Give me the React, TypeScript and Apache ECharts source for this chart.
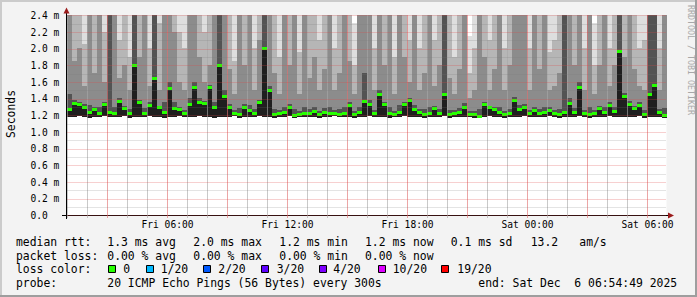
import React, { useEffect, useRef } from 'react';
import * as echarts from 'echarts';

// Time axis: hours since Fri 00:00 (graph spans 30 h, ends Sat 06:54:49)
const START_HOUR = 0.95;
const END_HOUR = 30.95;
const STEP_HOURS = 0.25;
const Y_MAX = 2.4;
const LABEL_HOURS = [6, 12, 18, 24, 30];
const GRID_HOURS = [1, 2, 3, 4, 5, 6, 7, 8, 9, 10, 11, 12, 13, 14, 15, 16, 17, 18, 19, 20, 21, 22, 23, 24, 25, 26, 27, 28, 29, 30];

// per 15-min step, values in ms (values above 2.4 are off the top of the graph)
const minMs = [
  1.18, 1.18, 1.19, 1.18, 1.17, 1.18, 1.18, 1.19, 1.18, 1.18, 1.18, 1.19, 1.17, 1.18, 1.18, 1.18, 1.19, 1.18, 1.18, 1.17,
  1.18, 1.18, 1.19, 1.18, 1.18, 1.18, 1.19, 1.18, 1.18, 1.17, 1.18, 1.18, 1.18, 1.19, 1.17, 1.18, 1.18, 1.18, 1.19, 1.18,
  1.18, 1.17, 1.18, 1.18, 1.19, 1.17, 1.18, 1.18, 1.18, 1.18, 1.17, 1.18, 1.18, 1.19, 1.18, 1.18, 1.18, 1.17, 1.18, 1.18,
  1.19, 1.18, 1.18, 1.18, 1.17, 1.18, 1.18, 1.19, 1.18, 1.18, 1.18, 1.17, 1.18, 1.18, 1.18, 1.19, 1.17, 1.18, 1.18, 1.18,
  1.18, 1.17, 1.17, 1.18, 1.19, 1.18, 1.18, 1.17, 1.18, 1.18, 1.18, 1.19, 1.18, 1.18, 1.18, 1.18, 1.19, 1.18, 1.17, 1.18,
  1.18, 1.18, 1.19, 1.18, 1.17, 1.18, 1.18, 1.18, 1.19, 1.18, 1.18, 1.18, 1.18, 1.18, 1.19, 1.17, 1.18, 1.18, 1.18, 1.17,
];
const medianMs = [
  1.27, 1.34, 1.33, 1.30, 1.24, 1.27, 1.22, 1.33, 1.23, 1.22, 1.37, 1.28, 1.22, 1.80, 1.35, 1.22, 1.32, 1.65, 1.29, 1.23,
  1.52, 1.28, 1.27, 1.22, 1.33, 1.53, 1.36, 1.34, 1.54, 1.30, 1.80, 1.43, 1.30, 1.22, 1.21, 1.30, 1.26, 1.22, 1.35, 2.00,
  1.50, 1.21, 1.22, 1.24, 1.30, 1.20, 1.21, 1.22, 1.22, 1.25, 1.21, 1.23, 1.22, 1.22, 1.21, 1.22, 1.32, 1.21, 1.23, 1.37,
  1.33, 1.22, 1.45, 1.33, 1.22, 1.21, 1.23, 1.33, 1.38, 1.27, 1.24, 1.21, 1.22, 1.28, 1.22, 1.45, 1.21, 1.22, 1.24, 1.29,
  1.21, 1.21, 1.19, 1.33, 1.29, 1.27, 1.23, 1.21, 1.22, 1.38, 1.27, 1.29, 1.22, 1.26, 1.22, 1.23, 1.26, 1.22, 1.21, 1.24,
  1.34, 1.23, 1.54, 1.22, 1.21, 1.22, 1.28, 1.23, 1.32, 1.25, 1.97, 1.43, 1.33, 1.28, 1.32, 1.21, 1.45, 1.56, 1.24, 1.20,
];
const p60Ms = [
  1.45, 1.38, 1.36, 1.33, 1.32, 1.30, 1.30, 1.36, 2.70, 1.29, 1.40, 1.31, 1.27, 3.10, 1.38, 1.28, 1.35, 2.90, 1.31, 1.35,
  1.60, 1.35, 1.30, 1.26, 1.40, 1.60, 1.40, 1.37, 1.56, 1.36, 3.20, 1.50, 1.33, 1.26, 1.28, 1.33, 1.32, 1.27, 1.38, 3.30,
  1.55, 1.27, 1.26, 1.30, 1.33, 1.27, 1.25, 1.30, 1.27, 1.29, 1.25, 1.28, 1.30, 1.26, 1.27, 1.30, 1.35, 1.25, 1.30, 1.70,
  1.38, 1.26, 1.50, 1.36, 1.30, 1.25, 1.32, 1.36, 1.40, 1.32, 1.27, 1.27, 1.30, 1.31, 1.27, 2.70, 1.26, 1.26, 1.28, 1.34,
  1.25, 1.25, 1.27, 1.36, 1.31, 1.30, 1.30, 1.25, 1.27, 1.42, 1.32, 1.33, 1.26, 1.30, 1.27, 1.30, 1.29, 1.26, 1.27, 2.60,
  1.40, 1.28, 1.60, 1.26, 1.30, 1.26, 1.31, 1.30, 1.35, 1.29, 3.00, 1.46, 1.37, 1.31, 1.35, 1.26, 2.60, 2.95, 1.27, 1.28,
];
const p75Ms = [
  3.00, 1.85, 2.00, 1.55, 2.90, 1.70, 2.80, 1.60, 3.20, 3.00, 1.65, 1.80, 1.50, 3.40, 1.90, 2.60, 1.55, 3.10, 1.50, 3.00,
  3.10, 2.20, 1.60, 1.50, 3.00, 3.20, 1.90, 1.60, 1.80, 2.95, 3.50, 3.00, 1.75, 1.45, 2.70, 1.80, 3.00, 1.50, 2.10, 3.60,
  3.10, 1.70, 1.45, 3.00, 1.80, 2.80, 1.45, 3.00, 1.65, 1.90, 1.50, 1.75, 3.00, 1.50, 1.70, 2.90, 1.85, 1.45, 3.00, 3.10,
  3.00, 1.50, 3.20, 1.80, 2.80, 1.45, 3.00, 1.90, 1.60, 3.00, 1.50, 1.70, 3.00, 1.55, 1.80, 3.20, 1.65, 1.45, 1.75, 3.00,
  1.40, 1.50, 3.00, 1.90, 1.50, 1.75, 3.00, 1.50, 1.80, 3.10, 2.80, 3.00, 1.50, 3.00, 1.75, 3.00, 1.50, 1.55, 1.70, 3.00,
  3.10, 1.80, 3.20, 1.50, 3.00, 1.45, 1.80, 3.00, 1.55, 1.80, 3.50, 1.90, 3.00, 1.75, 1.55, 1.50, 3.10, 3.30, 1.50, 3.00,
];
const p90Ms = [
  3.20, 3.00, 3.10, 2.05, 3.10, 3.00, 3.20, 2.20, 3.40, 3.10, 2.10, 3.00, 1.90, 3.60, 3.10, 3.00, 2.00, 3.30, 2.30, 3.20,
  3.30, 3.00, 2.20, 2.00, 3.20, 3.40, 3.00, 2.20, 3.10, 3.10, 3.70, 3.20, 3.00, 1.85, 3.00, 3.10, 3.20, 2.00, 3.00, 3.80,
  3.30, 3.00, 1.90, 3.20, 3.00, 3.00, 1.95, 3.20, 3.00, 3.10, 2.10, 3.00, 3.20, 2.00, 3.00, 3.10, 3.00, 1.80, 3.20, 3.30,
  3.20, 2.00, 3.40, 3.00, 3.00, 1.90, 3.20, 3.10, 2.10, 3.20, 2.00, 3.00, 3.20, 2.10, 3.00, 3.40, 3.00, 1.90, 3.00, 3.20,
  1.70, 2.00, 3.20, 3.10, 2.10, 3.00, 3.20, 2.00, 3.00, 3.30, 3.00, 3.20, 2.00, 3.20, 3.00, 3.20, 1.95, 2.10, 3.00, 3.20,
  3.30, 3.00, 3.40, 2.00, 3.20, 1.80, 3.00, 3.20, 2.00, 3.00, 3.70, 3.10, 3.20, 3.00, 2.00, 2.10, 3.30, 3.50, 2.00, 3.20,
];
const maxMs = [
  3.60, 3.40, 3.50, 3.20, 3.60, 3.30, 3.70, 3.40, 3.80, 3.50, 3.30, 3.40, 3.10, 3.90, 3.50, 3.60, 3.20, 3.70, 3.40, 3.60,
  3.70, 3.40, 3.30, 3.10, 3.60, 3.80, 3.40, 3.30, 3.50, 3.50, 4.00, 3.60, 3.40, 3.00, 3.50, 3.40, 3.60, 3.20, 3.40, 4.10,
  3.70, 3.40, 3.10, 3.60, 3.40, 3.50, 3.10, 3.60, 3.30, 3.40, 3.20, 3.30, 3.60, 3.20, 3.40, 3.50, 3.40, 2.30, 3.60, 3.70,
  3.60, 3.20, 3.80, 3.40, 3.50, 3.00, 3.60, 3.50, 3.30, 3.60, 3.20, 3.30, 3.60, 3.30, 3.40, 3.80, 3.30, 3.00, 3.40, 3.60,
  2.15, 3.10, 3.60, 3.50, 3.30, 3.40, 3.60, 3.20, 3.40, 3.70, 3.50, 3.60, 3.20, 3.60, 3.40, 3.60, 3.10, 3.30, 3.40, 3.60,
  3.70, 3.40, 3.80, 3.20, 3.60, 2.30, 3.40, 3.60, 3.20, 3.40, 4.00, 3.50, 3.60, 3.40, 3.20, 3.30, 3.70, 3.90, 3.20, 3.60,
];

// legend texts
const rttTitle = 'median rtt:';
const rttStats = ['1.3 ms avg', '2.0 ms max', '1.2 ms min', '1.2 ms now', '0.1 ms sd', '13.2', 'am/s'];
const lossTitle = 'packet loss:';
const lossStats = ['0.00 % avg', '0.00 % max', '0.00 % min', '0.00 % now'];
const colorTitle = 'loss color:';
const lossLabels = ['0', '1/20', '2/20', '3/20', '4/20', '10/20', '19/20'];
const lossColors = ['#26ff00', '#00b8ff', '#0059ff', '#5e00ff', '#7e00ff', '#dd00ff', '#ff0000'];
const probeTitle = 'probe:';
const probeText = '20 ICMP Echo Pings (56 Bytes) every 300s';
const endText = 'end: Sat Dec  6 06:54:49 2025';
const yTitle = 'Seconds';
const credit = 'RRDTOOL / TOBI OETIKER';

// layout (pixels)
const STAT_X = [107.3, 193.3, 279.3, 365, 450.7, 530.7, 579.3];
const SWATCH_X = [108.5, 146.5, 203.5, 261.5, 319.5, 378.5, 441.5];
const SWATCH_LABEL_X = [123.3, 160.7, 218.3, 276.7, 333.3, 392.7, 457.3];
const LINE_Y = [241.6, 255.5, 269.4, 283.3];

const MONO = "'DejaVu Sans Mono', monospace";
const LEGEND_FS = 11.4;
const AXIS_FS = 9.6;
const MAJOR_GRID = 'rgba(225, 70, 70, 0.5)';
const MINOR_GRID = 'rgba(120, 120, 120, 0.4)';
const V_MAJOR = '#e07070';
const V_MINOR = '#a8a8a8';
const ARROW = '#9b1c1c';
const SMOKE = ['#dedede', '#b6b6b6', '#8c8c8c', '#535353', '#1f1f1f'];

function pad2(n: number) {
  return String(n).padStart(2, '0');
}

export default function App() {
  const ref = useRef<HTMLDivElement>(null);

  useEffect(() => {
    if (!ref.current) return;
    const chart = echarts.init(ref.current, undefined, { renderer: 'svg' });

    const smokeData = medianMs.map((m, i) => [
      START_HOUR + i * STEP_HOURS,
      minMs[i],
      m,
      p60Ms[i],
      p75Ms[i],
      p90Ms[i],
      maxMs[i],
    ]);

    const txt = (text: string, x: number, y: number, extra: any = {}) => ({
      type: 'text',
      x,
      y,
      silent: true,
      style: {
        text,
        fill: '#000',
        fontFamily: MONO,
        fontSize: LEGEND_FS,
        textAlign: 'left',
        textVerticalAlign: 'middle',
        ...extra,
      },
    });

    const graphics: any[] = [
      // 3d border
      { type: 'rect', shape: { x: 0, y: 0, width: 697, height: 2 }, style: { fill: '#cbcbcb' }, silent: true },
      { type: 'rect', shape: { x: 0, y: 0, width: 2, height: 297 }, style: { fill: '#cbcbcb' }, silent: true },
      { type: 'rect', shape: { x: 0, y: 295, width: 697, height: 2 }, style: { fill: '#9e9e9e' }, silent: true },
      { type: 'rect', shape: { x: 695, y: 0, width: 2, height: 297 }, style: { fill: '#9e9e9e' }, silent: true },
      // axis extensions
      { type: 'rect', shape: { x: 62, y: 215, width: 5, height: 1 }, style: { fill: '#000' }, silent: true },
      { type: 'rect', shape: { x: 66, y: 215, width: 1, height: 4 }, style: { fill: '#000' }, silent: true },
      { type: 'rect', shape: { x: 66, y: 11, width: 1, height: 5 }, style: { fill: '#000' }, silent: true },
      { type: 'rect', shape: { x: 666, y: 215, width: 4, height: 1 }, style: { fill: '#000' }, silent: true },
      // arrows
      { type: 'polygon', shape: { points: [[66.5, 7.5], [63.5, 13.5], [69.5, 13.5]] }, style: { fill: ARROW }, silent: true, z: 10 },
      { type: 'polygon', shape: { points: [[674, 215.5], [668, 212.5], [668, 218.5]] }, style: { fill: ARROW }, silent: true, z: 10 },
      // y title
      { ...txt(yTitle, 0, 0, { textAlign: 'center' }), x: 10.5, y: 114, rotation: Math.PI / 2 },
      // credit
      {
        type: 'text',
        x: 690.5,
        y: 5,
        rotation: -Math.PI / 2,
        silent: true,
        style: { text: credit, fill: '#a8a8a8', fontFamily: MONO, fontSize: 8.3, textAlign: 'left', textVerticalAlign: 'middle' },
      },
      // legend rows
      txt(rttTitle, 16, LINE_Y[0]),
      ...rttStats.map((s, i) => txt(s, STAT_X[i], LINE_Y[0])),
      txt(lossTitle, 16, LINE_Y[1]),
      ...lossStats.map((s, i) => txt(s, STAT_X[i], LINE_Y[1])),
      txt(colorTitle, 16, LINE_Y[2]),
      ...lossColors.map((c, i) => ({
        type: 'rect',
        silent: true,
        shape: { x: SWATCH_X[i], y: 265.5, width: 7, height: 7 },
        style: { fill: c, stroke: '#000', lineWidth: 1 },
      })),
      ...lossLabels.map((s, i) => txt(s, SWATCH_LABEL_X[i], LINE_Y[2])),
      txt(probeTitle, 16, LINE_Y[3]),
      txt(probeText, 107.3, LINE_Y[3]),
      txt(endText, 478.3, LINE_Y[3]),
    ];

    const option: any = {
      animation: false,
      backgroundColor: '#f3f3f3',
      grid: { left: 66.5, top: 15.5, width: 600, height: 200, containLabel: false, show: true, backgroundColor: '#ffffff', borderWidth: 0 },
      xAxis: {
        type: 'value',
        min: START_HOUR,
        max: END_HOUR,
        axisLine: { show: true, lineStyle: { color: '#000', width: 1 } },
        axisTick: { show: false },
        axisLabel: {
          customValues: LABEL_HOURS,
          margin: 4,
          color: '#000',
          fontFamily: MONO,
          fontSize: AXIS_FS,
          formatter: (v: number) => {
            const h = Math.round(v);
            return `${h < 24 ? 'Fri' : 'Sat'} ${pad2(h % 24)}:00`;
          },
        },
        splitLine: { show: false },
        splitArea: { show: false },
      },
      yAxis: {
        type: 'value',
        min: 0,
        max: Y_MAX,
        interval: 0.1,
        z: 6,
        axisLine: { show: true, lineStyle: { color: '#000', width: 1 } },
        axisTick: { show: false },
        axisLabel: {
          align: 'left',
          margin: 36,
          color: '#000',
          fontFamily: MONO,
          fontSize: AXIS_FS,
          formatter: (v: number) => {
            const k = Math.round(v * 10);
            if (k % 2 !== 0) return '';
            return k === 0 ? '0.0' : `${(k / 10).toFixed(1)} m`;
          },
        },
        splitLine: { show: true, lineStyle: { color: [MAJOR_GRID, MINOR_GRID], type: [1, 1], width: 1 } },
        splitArea: { show: false },
      },
      series: [
        {
          type: 'custom',
          coordinateSystem: 'cartesian2d',
          clip: false,
          z: 2,
          silent: true,
          encode: { x: 0, y: [1, 2, 3, 4, 5, 6] },
          data: smokeData,
          renderItem: (params: any, api: any) => {
            const t = api.value(0);
            const lo = api.value(1);
            const med = api.value(2);
            const tops = [api.value(6), api.value(5), api.value(4), api.value(3), med];
            const xa = Math.round(api.coord([t, 0])[0]);
            const xb = Math.round(api.coord([t + STEP_HOURS, 0])[0]);
            const w = Math.max(1, xb - xa);
            const py = (v: number) => Math.round(api.coord([t, Math.min(v, Y_MAX)])[1] - 0.5);
            const yLo = py(lo);
            const children: any[] = tops.map((top, k) => {
              const yt = py(top);
              return {
                type: 'rect',
                shape: { x: xa, y: yt, width: w, height: Math.max(0, yLo - yt) },
                style: { fill: SMOKE[k] },
              };
            });
            const ym = api.coord([t, med])[1];
            children.push({
              type: 'rect',
              shape: { x: xa, y: Math.round(ym - 1.5), width: w, height: 3 },
              style: { fill: lossColors[0] },
            });
            // vertical hour grid line(s) falling inside this step, drawn over the smoke
            for (let g = 0; g < GRID_HOURS.length; g++) {
              const h = GRID_HOURS[g];
              if (h < t - 1e-6 || h >= t + STEP_HOURS - 1e-6) continue;
              const p0 = api.coord([h, 0]);
              const p1 = api.coord([h, Y_MAX]);
              const gx = Math.floor(p0[0]);
              const yTop = Math.floor(p1[1]);
              const yBot = Math.floor(p0[1]);
              children.push({
                type: 'rect',
                z2: 100,
                shape: { x: gx, y: yTop, width: 1, height: yBot - yTop + 3 },
                style: { fill: h % 3 === 0 ? V_MAJOR : V_MINOR, opacity: 0.62 },
              });
            }
            return { type: 'group', children };
          },
        },
      ],
      graphic: graphics,
    };

    chart.setOption(option);
    return () => chart.dispose();
  }, []);

  return <div ref={ref} style={{ position: 'absolute', left: 0, top: 0, width: 697, height: 297 }} />;
}
